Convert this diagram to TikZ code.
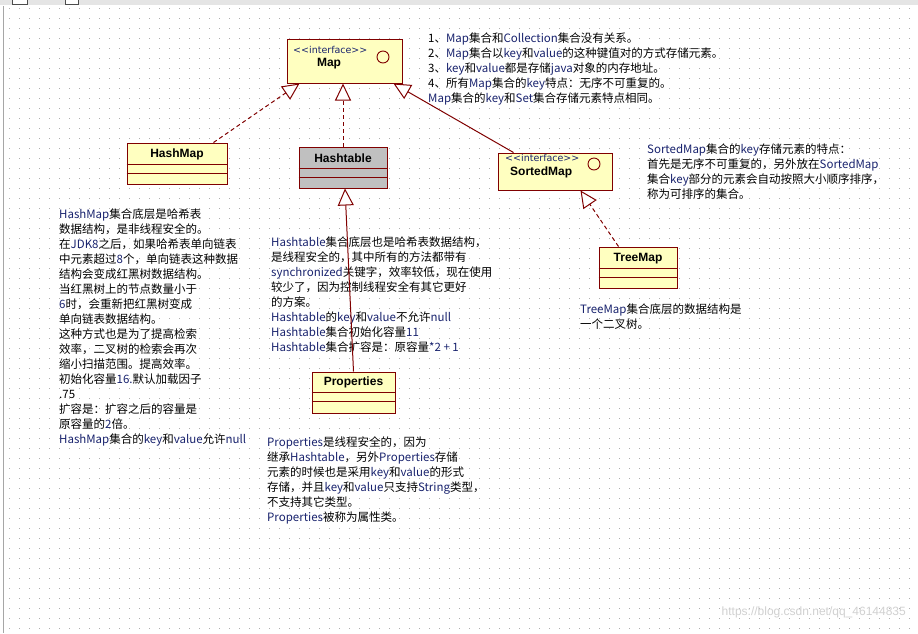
\documentclass[tikz,border=0pt]{standalone}
\usepackage{fontspec}
\setmainfont{Noto Sans CJK SC}
\newfontfamily\ttl{Liberation Sans}
\newfontfamily\dvs{DejaVu Sans}
\usetikzlibrary{arrows.meta,calc}
\definecolor{boxred}{RGB}{128,0,0}
\definecolor{boxfill}{RGB}{255,255,192}
\definecolor{grayfill}{RGB}{192,192,192}
\definecolor{latin}{RGB}{25,35,110}
\definecolor{dotc}{RGB}{175,175,175}
\newcommand\E[1]{\textcolor{latin}{#1}}
\begin{document}
\begin{tikzpicture}[x=1pt,y=-1pt,
  cls/.style={draw=boxred, line width=1pt, fill=boxfill, inner sep=0pt},
  clsgray/.style={cls, fill=grayfill},
  cmp/.style={draw=boxred, line width=1pt},
  ttlnode/.style={font=\ttl\bfseries\fontsize{12}{14}\selectfont, inner sep=0pt},
  iface/.style={font=\dvs\fontsize{9.5}{12}\selectfont, text=latin, inner sep=0pt, anchor=west},
  lolli/.style={draw=boxred, line width=0.9pt},
  note/.style={font=\fontsize{11.5}{15}\selectfont, align=left, inner sep=0pt, anchor=north west},
  tri/.style={-{Triangle[open, fill=white, length=17pt, width=16pt]}},
  realize/.style={draw=boxred, line width=1pt, dash pattern=on 4pt off 3pt, tri},
  general/.style={draw=boxred, line width=1pt, tri},
  wm/.style={font=\ttl\fontsize{12}{14}\selectfont, text=black!18, inner sep=0pt, anchor=east}
]
\useasboundingbox (0,0) rectangle (918,633);
\fill[white] (0,0) rectangle (918,633);
% dotted grid
\foreach \yy in {8,18,...,628}
  \draw[dotc, line width=1pt, dash pattern=on 1pt off 9pt] (9,\yy) -- (918,\yy);
% top strip and left border
\fill[black!10] (0,0) rectangle (918,5);
\draw[black!70, fill=white] (12,-1) rectangle (27,4);
\draw[black!70, fill=white] (65,-1) rectangle (78,4);
\draw[black!35, line width=1pt] (3,6) -- (3,633);

% notes
\node[note] (n1) at (428,33) {1、\E{Map}集合和\E{Collection}集合没有关系。\\
2、\E{Map}集合以\E{key}和\E{value}的这种键值对的方式存储元素。\\
3、\E{key}和\E{value}都是存储\E{java}对象的内存地址。\\
4、所有\E{Map}集合的\E{key}特点：无序不可重复的。\\
\E{Map}集合的\E{key}和\E{Set}集合存储元素特点相同。};

\node[note] (n2) at (647,144) {\E{SortedMap}集合的\E{key}存储元素的特点：\\
首先是无序不可重复的，另外放在\E{SortedMap}\\
集合\E{key}部分的元素会自动按照大小顺序排序，\\
称为可排序的集合。};

\node[note] (n3) at (59,209) {\E{HashMap}集合底层是哈希表\\
数据结构，是非线程安全的。\\
在\E{JDK8}之后，如果哈希表单向链表\\
中元素超过\E{8}个，单向链表这种数据\\
结构会变成红黑树数据结构。\\
当红黑树上的节点数量小于\\
\E{6}时，会重新把红黑树变成\\
单向链表数据结构。\\
这种方式也是为了提高检索\\
效率，二叉树的检索会再次\\
缩小扫描范围。提高效率。\\
初始化容量\E{16.}默认加载因子\\
.75\\
扩容是：扩容之后的容量是\\
原容量的\E{2}倍。\\
\E{HashMap}集合的\E{key}和\E{value}允许\E{null}};

\node[note] (n4) at (271,237) {\E{Hashtable}集合底层也是哈希表数据结构，\\
是线程安全的，其中所有的方法都带有\\
\E{synchronized}关键字，效率较低，现在使用\\
较少了，因为控制线程安全有其它更好\\
的方案。\\
\E{Hashtable}的\E{key}和\E{value}不允许\E{null}\\
\E{Hashtable}集合初始化容量\E{11}\\
\E{Hashtable}集合扩容是：原容量\E{*2 + 1}};

\node[note] (n5) at (267,437) {\E{Properties}是线程安全的，因为\\
继承\E{Hashtable}，另外\E{Properties}存储\\
元素的时候也是采用\E{key}和\E{value}的形式\\
存储，并且\E{key}和\E{value}只支持\E{String}类型，\\
不支持其它类型。\\
\E{Properties}被称为属性类。};

\node[note] (n6) at (580,304) {\E{TreeMap}集合底层的数据结构是\\
一个二叉树。};

% class boxes (shapes first, for naming)
\path (344.5,61) node[cls, minimum width=115pt, minimum height=44pt] (map) {};
\path (177,163.5) node[cls, minimum width=100pt, minimum height=41pt] (hashmap) {};
\path (343,167.5) node[clsgray, minimum width=88pt, minimum height=41pt] (hashtable) {};
\path (555,171.5) node[cls, minimum width=114pt, minimum height=37pt] (sortedmap) {};
\path (638,267.5) node[cls, minimum width=78pt, minimum height=41pt] (treemap) {};
\path (353.5,392.5) node[cls, minimum width=83pt, minimum height=41pt] (properties) {};

% connectors
\draw[realize] ($(hashmap.north east)+(-14,0)$) -- ($(map.south west)+(13,0)$);
\draw[realize] (hashtable.north) -- (hashtable.north |- map.south);
\draw[general] ($(sortedmap.north west)+(16,0)$) -- ($(map.south east)+(-9,0)$);
\draw[realize] ($(treemap.north west)+(20,0)$) -- ($(sortedmap.south east)+(-32,0)$);
\draw[general] (properties.north) -- ($(hashtable.south)+(2,0)$);

% redraw boxes on top of connectors
\path (344.5,61) node[cls, minimum width=115pt, minimum height=44pt] (mapB) {};
\path (177,163.5) node[cls, minimum width=100pt, minimum height=41pt] (hashmapB) {};
\path (343,167.5) node[clsgray, minimum width=88pt, minimum height=41pt] (hashtableB) {};
\path (555,171.5) node[cls, minimum width=114pt, minimum height=37pt] (sortedmapB) {};
\path (638,267.5) node[cls, minimum width=78pt, minimum height=41pt] (treemapB) {};
\path (353.5,392.5) node[cls, minimum width=83pt, minimum height=41pt] (propertiesB) {};

% compartments
\draw[cmp] ($(hashmap.north west)+(0,22)$) -- ($(hashmap.north east)+(0,22)$);
\draw[cmp] ($(hashmap.north west)+(0,31)$) -- ($(hashmap.north east)+(0,31)$);
\draw[cmp] ($(hashtable.north west)+(0,22)$) -- ($(hashtable.north east)+(0,22)$);
\draw[cmp] ($(hashtable.north west)+(0,31)$) -- ($(hashtable.north east)+(0,31)$);
\draw[cmp] ($(treemap.north west)+(0,22)$) -- ($(treemap.north east)+(0,22)$);
\draw[cmp] ($(treemap.north west)+(0,31)$) -- ($(treemap.north east)+(0,31)$);
\draw[cmp] ($(properties.north west)+(0,21)$) -- ($(properties.north east)+(0,21)$);
\draw[cmp] ($(properties.north west)+(0,30)$) -- ($(properties.north east)+(0,30)$);

% titles
\node[iface] (mapI) at (293,50) {<<interface>>};
\node[ttlnode] (mapT) at (329,64) {Map};
\draw[lolli] (383,57) circle (6);
\node[ttlnode] (hashmapT) at (177,154.5) {HashMap};
\node[ttlnode] (hashtableT) at (343,158.5) {Hashtable};
\node[iface] (smI) at (505,158) {<<interface>>};
\node[ttlnode, anchor=west] (smT) at (510,172) {SortedMap};
\draw[lolli] (594,164) circle (6);
\node[ttlnode] (treemapT) at (638,258.5) {TreeMap};
\node[ttlnode] (propT) at (353.5,382.5) {Properties};

% watermark
\node[wm] (wmark) at (906,612) {https://blog.csdn.net/qq\_46144835};
\end{tikzpicture}
\end{document}
